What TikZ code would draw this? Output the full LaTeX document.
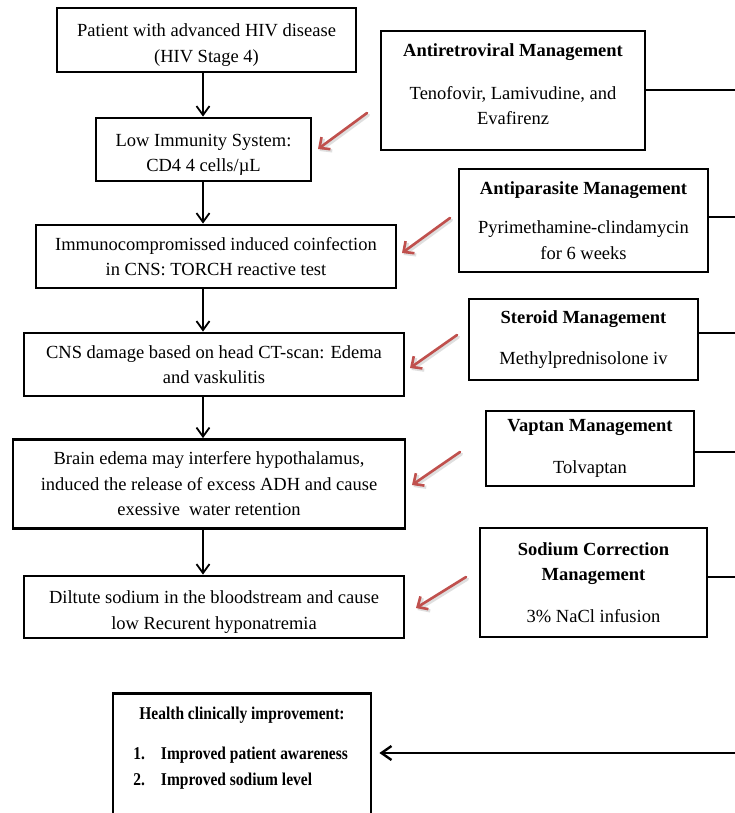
\documentclass[tikz,border=0pt]{standalone}
\usepackage{fontspec}
\setmainfont{Liberation Serif}
\newfontfamily\condfont[FakeStretch=0.86]{Liberation Serif}
\usetikzlibrary{arrows.meta}
\definecolor{redc}{RGB}{192,80,77}
\tikzset{
  box/.style={draw, line width=2.8pt, align=center, inner sep=0pt,
    font=\fontsize{18.5}{25.5}\selectfont},
  flow/.style={line width=1.8pt, -{Straight Barb[length=9pt,width=13pt]}},
  link/.style={line width=1.8pt},
  redarr/.style={draw=redc, line width=2.6pt, line cap=round, -{Straight Barb[length=8pt,width=15pt]}},
  redshadow/.style={draw=black!35, opacity=0.35, line width=3.2pt, line cap=round, -{Straight Barb[length=8pt,width=15pt]}},
}
\newcommand{\lowerstrut}{\rule{0pt}{22.8pt}}
\begin{document}
\begin{tikzpicture}[x=1pt,y=-1pt]
\clip (0,0) rectangle (735,813);
\fill[white] (0,0) rectangle (735,813);

% left flow boxes
\node[box, minimum width=299pt, minimum height=64pt] (n1) at (206.5,40)
  {\lowerstrut Patient with advanced HIV disease\\(HIV Stage 4)};
\node[box, minimum width=215pt, minimum height=63pt] (n2) at (203.5,149.5)
  {\lowerstrut Low Immunity System:\\CD4 4 cells/µL};
\node[box, minimum width=360pt, minimum height=63pt] (n3) at (216,256.5)
  {Immunocompromissed induced coinfection\\in CNS: TORCH reactive test};
\node[box, minimum width=380pt, minimum height=63pt] (n4) at (214,364.5)
  {CNS damage based on head CT-scan: Edema\\and vaskulitis};
\node[box, minimum width=392pt, minimum height=89pt] (n5) at (209,484)
  {Brain edema may interfere hypothalamus,\\induced the release of excess ADH and cause\\exessive~ water retention};
\node[box, minimum width=380pt, minimum height=62pt] (n6) at (214,607)
  {\lowerstrut Diltute sodium in the bloodstream and cause\\low Recurent hyponatremia};

% right management boxes
\node[box, minimum width=264pt, minimum height=119pt] (A) at (513,90.5)
  {\textbf{Antiretroviral Management}\\[17pt]Tenofovir, Lamivudine, and\\Evafirenz\rule[-12pt]{0pt}{12pt}};
\node[box, minimum width=249pt, minimum height=103pt] (B) at (583.5,220.5)
  {\textbf{Antiparasite Management}\\[14pt]Pyrimethamine-clindamycin\\for 6 weeks};
\node[box, minimum width=229pt, minimum height=81pt] (C) at (583.5,339.5)
  {\textbf{Steroid Management}\\[16pt]Methylprednisolone iv};
\node[box, minimum width=208pt, minimum height=75pt] (D) at (590,448.5)
  {\textbf{Vaptan Management}\\[16pt]Tolvaptan};
\node[box, minimum width=227pt, minimum height=109pt] (E) at (593.5,582.5)
  {\textbf{Sodium Correction}\\\textbf{Management}\\[16pt]3\% NaCl infusion};

% outcome box
\node[draw, line width=2.8pt, anchor=north, inner xsep=0pt, inner ysep=8pt,
      minimum width=258pt, font=\condfont\fontsize{18}{26}\selectfont] (H) at (242,692)
  {\begin{tabular}{@{}l@{\hspace{16pt}}l@{}}
   \multicolumn{2}{c}{\textbf{Health clinically improvement:}}\\[14pt]
   \textbf{1.} & \textbf{Improved patient awareness}\\
   \textbf{2.} & \textbf{Improved sodium level}\\[60pt]
   \end{tabular}};

% vertical flow arrows
\coordinate (ax) at (203,0);
\draw[flow] (n1.south -| ax) -- (n2.north -| ax);
\draw[flow] (n2.south -| ax) -- (n3.north -| ax);
\draw[flow] (n3.south -| ax) -- (n4.north -| ax);
\draw[flow] (n4.south -| ax) -- (n5.north -| ax);
\draw[flow] (n5.south -| ax) -- (n6.north -| ax);

% lines to right edge
\coordinate (eA) at (735,90);
\coordinate (eB) at (735,217);
\coordinate (eC) at (735,333);
\coordinate (eD) at (735,452);
\coordinate (eE) at (735,577);
\draw[link] (A.east |- eA) -- (eA);
\draw[link] (B.east |- eB) -- (eB);
\draw[link] (C.east |- eC) -- (eC);
\draw[link] (D.east |- eD) -- (eD);
\draw[link] (E.east |- eE) -- (eE);

% arrow into outcome box
\coordinate (eH) at (735,753);
\draw[line width=2.4pt, -{Straight Barb[length=10pt,width=14pt]}] (eH) -- ([xshift=7pt]H.east |- eH);

% red arrows
\coordinate (r1s) at (367,113); \coordinate (r1e) at (318,149);
\coordinate (r2s) at (450,218); \coordinate (r2e) at (402,253);
\coordinate (r3s) at (457,335); \coordinate (r3e) at (410,368);
\coordinate (r4s) at (460,452); \coordinate (r4e) at (412,485);
\coordinate (r5s) at (466,577); \coordinate (r5e) at (416,608);
\foreach \i in {1,...,5}{
  \draw[redshadow] ([shift={(1.5pt,-2pt)}]r\i s) -- ([shift={(1.5pt,-2pt)}]r\i e);
  \draw[redarr] (r\i s) -- (r\i e);
}
\end{tikzpicture}
\end{document}
